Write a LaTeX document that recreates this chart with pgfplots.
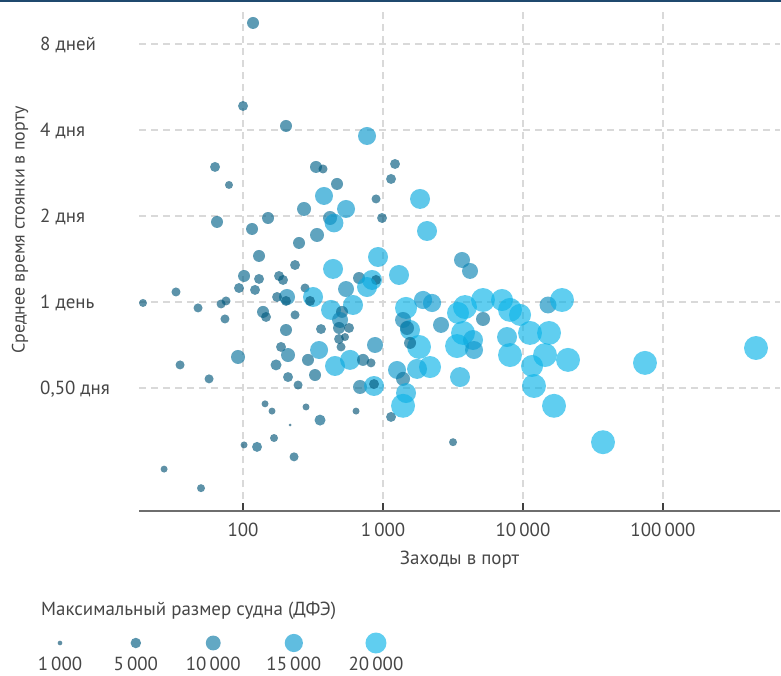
\documentclass[border=0pt]{standalone}
\usepackage{fontspec}
\setmainfont{PT Sans}
\usepackage{pgfplots}
\pgfplotsset{compat=1.18}
\usepackage{pgfplotstable}

\definecolor{txt}{RGB}{70,70,70}
\definecolor{gridc}{RGB}{217,217,217}
\definecolor{navy}{RGB}{31,73,110}
\definecolor{axc}{RGB}{110,110,110}

\pgfplotstableread{
x y s
117.9 9.476 6500
100 4.853 4500
202.8 4.131 6500
768.7 3.811 14700
63.1 2.969 4500
79.4 2.568 2900
65.2 1.906 6500
116 1.801 6500
332.1 2.969 6500
372.7 2.921 3700
1218 3.041 4500
1141 2.695 4500
469.4 2.589 6500
378.8 2.350 14700
891.3 2.294 3700
1838 2.294 18100
272.8 2.116 8900
544.3 2.116 14700
418.3 1.968 8900
446.7 1.890 16000
150.9 1.968 6500
983.7 1.968 4500
337.8 1.716 8900
251.2 1.609 6500
2062 1.772 18100
130.1 1.449 6500
921.1 1.437 18100
235.2 1.347 4500
439.5 1.305 18100
101.7 1.233 6500
130.1 1.204 4500
180.8 1.233 4500
193.1 1.194 4500
93.6 1.119 4500
121.8 1.102 4500
277.3 1.119 3700
206.2 1.041 11600
202.8 1.008 4500
316.2 1.041 18100
301 1.008 4500
175 1.041 4500
33.2 1.084 3700
19.3 0.992 2900
47.7 0.953 3700
69.7 0.984 3700
75.6 1.008 3700
74.3 0.872 3700
139 0.923 6500
146 0.886 4500
235.2 0.901 3700
425.2 0.938 18100
202.8 0.798 6500
360.6 0.804 4500
349.2 0.679 14700
186.8 0.696 4500
209.6 0.652 8900
291.2 0.627 6500
92.1 0.642 8900
35.5 0.602 3700
57.2 0.538 3700
172.1 0.602 5500
209.6 0.546 4500
247.2 0.512 3700
326.9 0.555 6500
454.1 0.597 18100
143.6 0.440 2200
161.1 0.415 2200
281.8 0.429 2200
354.8 0.386 5500
216.6 0.371 400
101.7 0.316 2200
125.9 0.311 4500
166.5 0.334 2900
231.4 0.287 3700
27.3 0.260 2200
50.1 0.223 2900
641.6 0.415 2200
1141 0.396 4500
3162 0.323 2900
1301 1.243 18100
3667 1.403 11600
4182 1.284 11600
674.1 1.213 6500
834.5 1.194 18100
891.3 1.194 4500
768.7 1.128 18100
544.3 1.110 11600
610.6 0.976 18100
509.5 0.923 6500
493.2 0.865 11600
485.1 0.811 6500
571.8 0.811 4500
485.1 0.742 4500
535.4 0.754 2900
501.2 0.696 3700
876.6 0.707 11600
581.3 0.627 18100
719.7 0.627 6500
820.9 0.612 3700
685.2 0.504 8900
862.4 0.508 18100
862.4 0.516 4500
1460 0.953 22000
1390 0.865 11600
1560 0.798 18100
1484 0.811 8900
1808 0.696 26000
1560 0.719 6500
2166 0.592 22000
1750 0.583 18100
1259 0.578 14700
1390 0.538 8900
1460 0.480 18100
1390 0.433 26000
1931 1.016 15000
2239 0.992 15000
2596 0.831 11600
3548 0.546 18100
3378 0.701 26000
3728 0.779 26000
4394 0.736 18100
4467 0.679 14700
3852 0.960 26000
3434 0.915 22000
5179 1.016 26000
5179 0.872 8900
7079 1.016 22000
8074 0.938 26000
9519 0.901 22000
7688 0.754 18100
8074 0.652 26000
11220 0.779 26000
15090 0.976 13000
18990 1.016 26000
15340 0.779 26000
14360 0.652 26000
11600 0.597 22000
11980 0.508 26000
16650 0.433 26000
20960 0.627 26000
37270 0.323 26000
74340 0.612 26000
461600 0.690 26000
}\ports

\pgfplotstableread{
i y s
0 0 1000
0.96 0 5000
1.94 0 10000
2.96 0 15000
4 0 20000
}\sizes

\pgfplotsset{
  colormap={ship}{rgb255(0cm)=(9,82,114); rgb255(4cm)=(2,92,129); rgb255(9cm)=(14,121,165); rgb255(14cm)=(11,154,208); rgb255(19cm)=(11,180,232)},
  bubbles/.style={
    only marks, scatter, mark=*, point meta=explicit,
    scatter/use mapped color={draw=mapped color, fill=mapped color},
    mark options={fill opacity=0.65, draw opacity=0},
    visualization depends on={10.5*sqrt(\thisrow{s}/20000) \as \rad},
    scatter/@pre marker code/.append style={/tikz/mark size=\rad bp},
  },
}

\begin{document}
\fontsize{19}{22}\selectfont
\begin{tikzpicture}
\useasboundingbox (0,0) rectangle (781bp,676bp);
\draw[navy, line width=2.2bp] (0,675bp) -- (781bp,675bp);

\begin{axis}[
  at={(139bp,165bp)}, anchor=south west, scale only axis,
  width=641bp, height=503bp,
  xmode=log, ymode=log, log basis y=2,
  xmin=18.07, xmax=685000, ymin=0.1855, ymax=10.69,
  axis x line*=bottom, axis y line*=left,
  x axis line style={-, draw=axc, line width=1.3bp},
  y axis line style={draw=none},
  xtick={100,1000,10000,100000},
  xticklabels={100, 1\,000, 10\,000, 100\,000},
  ytick={0.5,1,2,4,8},
  yticklabels={{0,50 дня}, {1 день}, {2 дня}, {4 дня}, {8 дней}},
  xminorticks=false, yminorticks=false,
  tick align=inside,
  major tick length=8bp,
  xtick style={draw=black!75, line width=1.2bp},
  ytick style={draw=none},
  xmajorgrids, ymajorgrids,
  major grid style={gridc, line width=1.3bp, dash pattern=on 7bp off 5bp},
  xticklabel style={anchor=center, yshift=-19bp, text=txt},
  yticklabel style={anchor=base west, inner sep=0pt, xshift=-99bp, yshift=-6.5bp, text=txt},
  xlabel={Заходы в порт},
  xlabel style={at={(axis description cs:0.5,-0.0974)}, anchor=center, text=txt},
  point meta min=1000, point meta max=20000, colormap name=ship,
  clip=false,
]
\addplot[bubbles] table[x=x, y=y, meta=s]{\ports};
\end{axis}

\node[rotate=90, anchor=center, inner sep=0pt, text=txt, font=\fontsize{18}{21}\selectfont] at (20bp,446bp) {Среднее время стоянки в порту};

\begin{axis}[
  at={(0bp,23bp)}, anchor=south west, scale only axis,
  width=781bp, height=20bp,
  xmin=-0.7595, xmax=9.127, ymin=-1, ymax=1,
  axis line style={draw=none},
  major tick length=0pt, tick style={draw=none},
  ytick=\empty,
  xtick={0,0.96,1.94,2.96,4},
  xticklabels={1\,000, 5\,000, 10\,000, 15\,000, 20\,000},
  xticklabel style={anchor=center, inner sep=0pt, yshift=-10.5bp, text=txt},
  clip=false,
  point meta min=1000, point meta max=20000, colormap name=ship,
]
\addplot[bubbles] table[x=i, y=y, meta=s]{\sizes};
\end{axis}

\node[anchor=west, inner sep=0pt, text=txt] at (41bp,65bp) {Максимальный размер судна (ДФЭ)};
\end{tikzpicture}
\end{document}
